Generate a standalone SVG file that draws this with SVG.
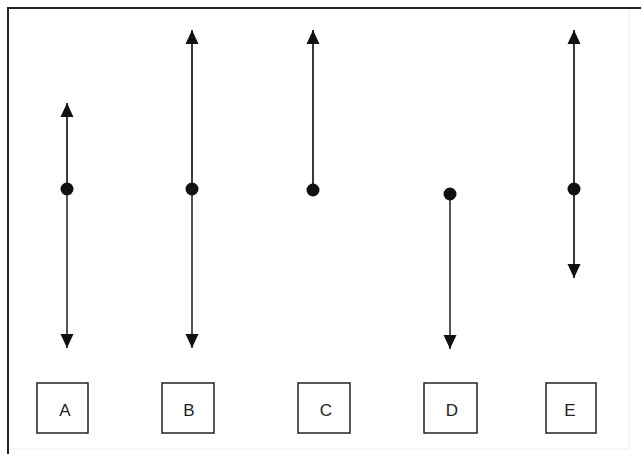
<svg xmlns="http://www.w3.org/2000/svg" width="641" height="454" viewBox="0 0 641 454">
<defs>
<marker id="arr" markerUnits="userSpaceOnUse" markerWidth="15" markerHeight="14" refX="14" refY="7" orient="auto">
<path d="M0,0.5 L14,7 L0,13.5 z" fill="#111"/>
</marker>
<style>
.ln{stroke:#3a3a3a;stroke-width:2;fill:none;marker-end:url(#arr)}
.lo{stroke:#555;}
.dot{fill:#111}
.box{fill:#fff;stroke:#222;stroke-width:1.5}
.lbl{font-family:"Liberation Sans",Arial,sans-serif;font-size:17px;fill:#222;text-anchor:middle}
</style>
</defs>
<rect x="0" y="0" width="641" height="454" fill="#fff"/>
<g id="frame">
<line x1="7" y1="8" x2="641" y2="8" stroke="#222" stroke-width="2"/>
<line x1="8" y1="7" x2="8" y2="454" stroke="#222" stroke-width="2"/>
<line x1="629" y1="9" x2="629" y2="449" stroke="#eee" stroke-width="1"/>
<line x1="9" y1="449" x2="629" y2="449" stroke="#eee" stroke-width="1"/>
</g>
<g id="connectors">
<line class="ln" x1="67" y1="189" x2="67" y2="103"/>
<line class="ln lo" x1="67" y1="189" x2="67" y2="348"/>
<line class="ln" x1="192" y1="189" x2="192" y2="30"/>
<line class="ln lo" x1="192" y1="189" x2="192" y2="348"/>
<line class="ln" x1="313" y1="190" x2="313" y2="30"/>
<line class="ln lo" x1="450" y1="194" x2="450" y2="349"/>
<line class="ln" x1="574" y1="189" x2="574" y2="30"/>
<line class="ln" x1="574" y1="189" x2="574" y2="278"/>
<circle class="dot" cx="67" cy="189" r="6.5"/>
<circle class="dot" cx="192" cy="189" r="6.5"/>
<circle class="dot" cx="313" cy="190" r="6.5"/>
<circle class="dot" cx="450" cy="194" r="6.5"/>
<circle class="dot" cx="574" cy="189" r="6.5"/>
</g>
<g id="nodeA"><rect class="box" x="37" y="383" width="51" height="50"/><text class="lbl" x="65" y="416">A</text></g>
<g id="nodeB"><rect class="box" x="162" y="383" width="52" height="50"/><text class="lbl" x="189" y="416">B</text></g>
<g id="nodeC"><rect class="box" x="298" y="383" width="52" height="50"/><text class="lbl" x="326" y="416">C</text></g>
<g id="nodeD"><rect class="box" x="424" y="383" width="53" height="50"/><text class="lbl" x="452" y="416">D</text></g>
<g id="nodeE"><rect class="box" x="546" y="383" width="50" height="50"/><text class="lbl" x="570" y="416">E</text></g>
</svg>
